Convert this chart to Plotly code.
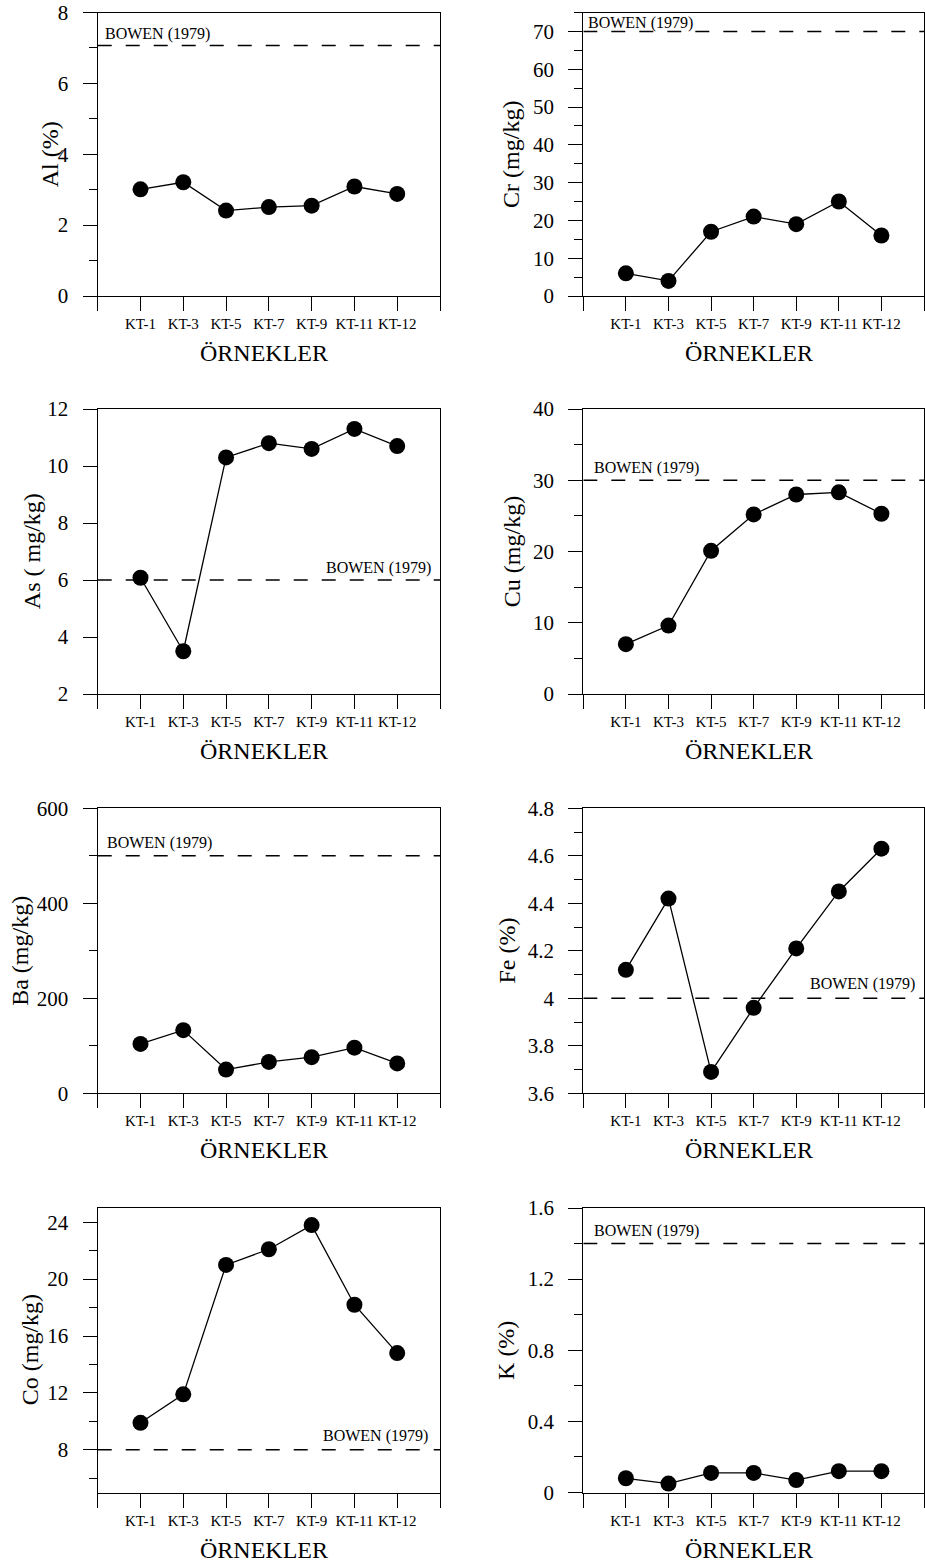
import plotly.graph_objects as go

# ---------------- data ----------------
samples = ["KT-1", "KT-3", "KT-5", "KT-7", "KT-9", "KT-11", "KT-12"]
al = [3.01, 3.21, 2.41, 2.51, 2.55, 3.09, 2.88]
cr = [6, 4, 17, 21, 19, 25, 16]
as_ = [6.08, 3.5, 10.3, 10.8, 10.6, 11.3, 10.7]
cu = [7.0, 9.6, 20.1, 25.2, 28.0, 28.3, 25.3]
ba = [104, 133, 50, 66, 76, 96, 63]
fe = [4.12, 4.42, 3.69, 3.96, 4.21, 4.45, 4.63]
co = [9.9, 11.9, 21.0, 22.1, 23.8, 18.2, 14.8]
k = [0.08, 0.05, 0.11, 0.11, 0.07, 0.12, 0.12]

bowen_al, bowen_cr, bowen_as, bowen_cu = 7.07, 70, 6, 30
bowen_ba, bowen_fe, bowen_co, bowen_k = 500, 4.0, 8, 1.4

y_titles = ["Al (%)", "Cr (mg/kg)", "As ( mg/kg)", "Cu (mg/kg)",
            "Ba (mg/kg)", "Fe (%)", "Co (mg/kg)", "K (%)"]
x_title = "ÖRNEKLER"
bowen_label = "BOWEN (1979)"

al_ticks = [0, 2, 4, 6, 8]
cr_ticks = [0, 10, 20, 30, 40, 50, 60, 70]
as_ticks = [2, 4, 6, 8, 10, 12]
cu_ticks = [0, 10, 20, 30, 40]
ba_ticks = [0, 200, 400, 600]
fe_ticks = [3.6, 3.8, 4.0, 4.2, 4.4, 4.6, 4.8]
fe_ticktext = ["3.6", "3.8", "4", "4.2", "4.4", "4.6", "4.8"]
co_ticks = [8, 12, 16, 20, 24]
k_ticks = [0, 0.4, 0.8, 1.2, 1.6]

al_minor = [1, 3, 5, 7]
cr_minor = [5, 15, 25, 35, 45, 55, 65, 75]
as_minor = []
cu_minor = [5, 15, 25, 35]
ba_minor = [100, 300, 500]
fe_minor = [3.7, 3.9, 4.1, 4.3, 4.5, 4.7]
co_minor = [6, 10, 14, 18, 22]
k_minor = [0.2, 0.6, 1.0, 1.4]

# ---------------- layout geometry (pixels) ----------------
W, H = 925, 1564
FONT = "Liberation Serif"

panels = [
    dict(y=al, b=bowen_al, rng=[0, 8], tv=al_ticks, tt=None, mv=al_minor),
    dict(y=cr, b=bowen_cr, rng=[0, 75], tv=cr_ticks, tt=None, mv=cr_minor),
    dict(y=as_, b=bowen_as, rng=[2, 12], tv=as_ticks, tt=None, mv=as_minor),
    dict(y=cu, b=bowen_cu, rng=[0, 40], tv=cu_ticks, tt=None, mv=cu_minor),
    dict(y=ba, b=bowen_ba, rng=[0, 600], tv=ba_ticks, tt=None, mv=ba_minor),
    dict(y=fe, b=bowen_fe, rng=[3.6, 4.8], tv=fe_ticks, tt=fe_ticktext, mv=fe_minor),
    dict(y=co, b=bowen_co, rng=[5, 25], tv=co_ticks, tt=None, mv=co_minor),
    dict(y=k, b=bowen_k, rng=[0, 1.6], tv=k_ticks, tt=None, mv=k_minor),
]

col_x = [(97.7, 440.0), (583.3, 924.0)]
row_y = [(12.5, 296), (409, 694), (808.3, 1093.3), (1208, 1492.5)]
ytitle_x = [50, 511.7, 31.7, 511.7, 20, 506.7, 30, 506.7]
# bowen label placement: (side, x offset px, y offset px)
bowen_pos = [("left", 5, 11), ("left", 3, 8), ("right", 7, 12), ("left", 9, 12),
             ("left", 7, 13), ("right", 7, 14), ("right", 10, 14), ("left", 9, 13)]

xs = list(range(1, len(samples) + 1))
xt_vals = list(range(0, len(samples) + 2))
xt_text = [""] + samples + [""]

fig = go.Figure()
layout = dict(
    width=W, height=H, autosize=False,
    margin=dict(l=0, r=0, t=0, b=0, pad=0, autoexpand=False),
    paper_bgcolor="white", plot_bgcolor="rgba(0,0,0,0)",
    showlegend=False, font=dict(family=FONT, color="black"),
    annotations=[],
)

for i, p in enumerate(panels):
    r, c = divmod(i, 2)
    x0, x1 = col_x[c]
    y0, y1 = row_y[r]
    n = "" if i == 0 else str(i + 1)
    xa, ya = "x" + n, "y" + n

    fig.add_trace(go.Scatter(
        x=[0, len(samples) + 1], y=[p["b"], p["b"]], mode="lines",
        line=dict(color="black", width=1.5, dash="14px,14px"),
        xaxis=xa, yaxis=ya, hoverinfo="skip"))
    fig.add_trace(go.Scatter(
        x=xs, y=p["y"], mode="lines+markers",
        line=dict(color="black", width=1.3),
        marker=dict(size=16, color="black"),
        xaxis=xa, yaxis=ya, cliponaxis=False))

    layout["xaxis" + n] = dict(
        domain=[x0 / W, x1 / W], anchor=ya, range=[0, len(samples) + 1],
        tickmode="array", tickvals=xt_vals, ticktext=xt_text,
        ticks="outside", ticklen=14, tickwidth=1.3, tickcolor="black",
        showline=True, linecolor="black", linewidth=1.3, mirror=True,
        showgrid=False, zeroline=False, tickfont=dict(size=15, family=FONT),
        ticklabeloverflow="allow", automargin=False, fixedrange=True)
    ydict = dict(
        domain=[1 - y1 / H, 1 - y0 / H], anchor=xa, range=p["rng"],
        tickmode="array", tickvals=p["tv"],
        ticks="outside", ticklen=14, tickwidth=1.3, tickcolor="black",
        showline=True, linecolor="black", linewidth=1.3, mirror=True,
        showgrid=False, zeroline=False, tickfont=dict(size=21, family=FONT),
        ticklabelstandoff=10, ticklabeloverflow="allow",
        automargin=False, fixedrange=True)
    if p["tt"] is not None:
        ydict["ticktext"] = p["tt"]
    if p["mv"]:
        ydict["minor"] = dict(tickmode="array", tickvals=p["mv"], ticks="outside",
                              ticklen=8, tickwidth=1.3, tickcolor="black",
                              showgrid=False)
    layout["yaxis" + n] = ydict

    # y title
    layout["annotations"].append(dict(
        text=y_titles[i], x=ytitle_x[i] / W, y=1 - (y0 + y1) / 2 / H,
        xref="paper", yref="paper", textangle=-90, showarrow=False,
        xanchor="center", yanchor="middle", font=dict(size=24, family=FONT)))
    # x title
    layout["annotations"].append(dict(
        text=x_title, x=((x0 + x1) / 2 - 5) / W, y=1 - (y1 + 57) / H,
        xref="paper", yref="paper", showarrow=False,
        xanchor="center", yanchor="middle", font=dict(size=24, family=FONT)))
    # bowen label
    side, dx, dy = bowen_pos[i]
    layout["annotations"].append(dict(
        text=bowen_label,
        x=0 if side == "left" else len(samples) + 1, y=p["b"],
        xref=xa, yref=ya, showarrow=False,
        xanchor=side, yanchor="middle",
        xshift=dx if side == "left" else -dx, yshift=dy,
        font=dict(size=16, family=FONT)))

fig.update_layout(**layout)
fig.write_html("out.html")
